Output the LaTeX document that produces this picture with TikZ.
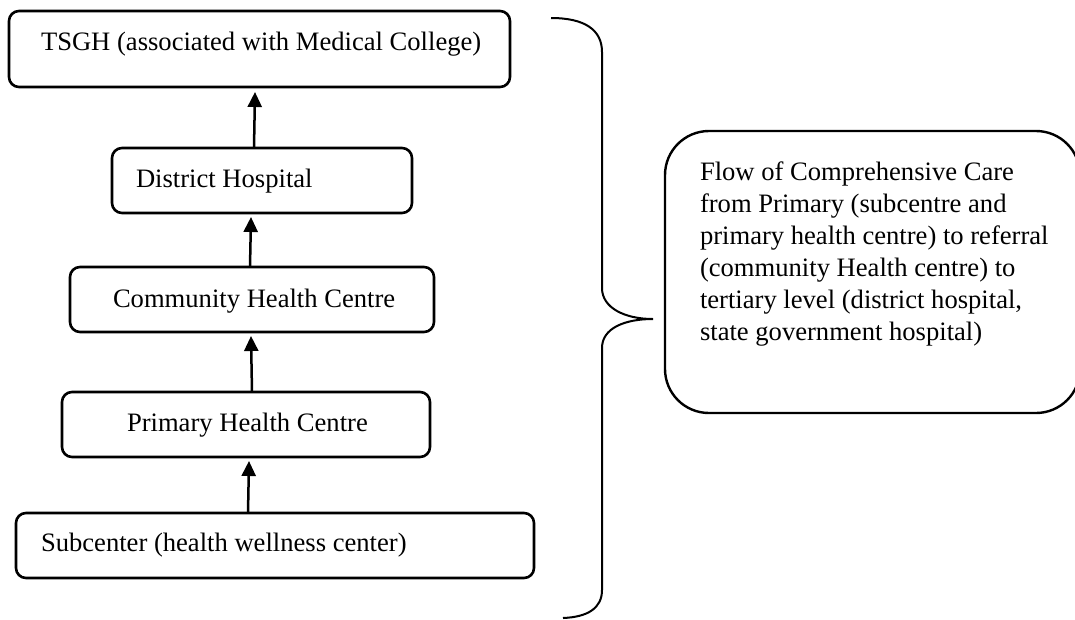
\documentclass[tikz,border=0pt]{standalone}
\usepackage{fontspec}
\setmainfont{Liberation Serif}
\usetikzlibrary{arrows.meta}
\begin{document}
\begin{tikzpicture}[x=1pt,y=-1pt,
  every node/.style={inner sep=0pt, outer sep=0pt},
  levelbox/.style={draw, line width=2.6pt, rounded corners=10pt},
  label/.style={anchor=base west, font=\fontsize{26.6}{32}\selectfont},
  uparrow/.style={line width=2.5pt, -{Triangle[width=14pt,length=15pt]}},
  brace/.style={line width=2pt},
  notebox/.style={draw, line width=2.4pt, rounded corners=44pt}]
\useasboundingbox (0,0) rectangle (1075,619);

% levels of care, top to bottom
\node[levelbox, minimum width=501pt, minimum height=76pt] (tsgh) at (259.5,49) {};
\node[levelbox, minimum width=300pt, minimum height=65pt] (dist) at (262,180.5) {};
\node[levelbox, minimum width=364pt, minimum height=65pt] (chc) at (252,299.5) {};
\node[levelbox, minimum width=368pt, minimum height=65pt] (phc) at (246,424.5) {};
\node[levelbox, minimum width=518pt, minimum height=65pt] (sub) at (275,545.5) {};

\node[label] (tsgh-t) at (41,50) {TSGH (associated with Medical College)};
\node[label] (dist-t) at (136,187) {District Hospital};
\node[label] (chc-t) at (113,307) {Community Health Centre};
\node[label] (phc-t) at (127,431) {Primary Health Centre};
\node[label] (sub-t) at (41,551) {Subcenter (health wellness center)};

% referral arrows
\draw[uparrow] (sub.north -| 248,0) -- ([yshift=-4pt]phc.south -| 249,0);
\draw[uparrow] (phc.north -| 252,0) -- ([yshift=-4pt]chc.south -| 251,0);
\draw[uparrow] (chc.north -| 250,0) -- ([yshift=-4pt]dist.south -| 251,0);
\draw[uparrow] (dist.north -| 254,0) -- ([yshift=-5pt]tsgh.south -| 255,0);

% curly brace grouping all levels
\coordinate (btop) at (551,18);
\coordinate (btip) at (653,319);
\coordinate (bbot) at (563,618);
\draw[brace] (btop) .. controls (585,18) and (602,30) .. (602,52)
  -- (602,288) .. controls (602,308) and (625,319) .. (btip)
  .. controls (625,319) and (602,328) .. (602,348)
  -- (602,590) .. controls (602,608) and (588,617) .. (bbot);

% explanatory note
\node[notebox, minimum width=415pt, minimum height=282pt] (note) at (872.5,272) {};
\node[anchor=north west, align=left, font=\fontsize{26.6}{32}\selectfont] (note-t) at (700,162)
  {Flow of Comprehensive Care\\
   from Primary (subcentre and\\
   primary health centre) to referral\\
   (community Health centre) to\\
   tertiary level (district hospital,\\
   state government hospital)};
\end{tikzpicture}
\end{document}
